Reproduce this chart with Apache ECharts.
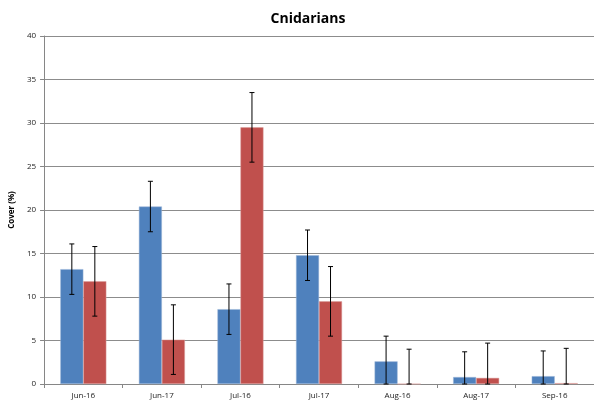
<!DOCTYPE html>
<html>
<head>
<meta charset="utf-8">
<script src="https://cdn.jsdelivr.net/npm/echarts@6/dist/echarts.min.js"></script>
<style>
  html, body { margin: 0; padding: 0; background: #fff; }
  #main { width: 594px; height: 402px; }
</style>
</head>
<body>
<div id="main"></div>
<script>
const categories = ['Jun-16', 'Jun-17', 'Jul-16', 'Jul-17', 'Aug-16', 'Aug-17', 'Sep-16']
const blueValues = [13.2, 20.4, 8.6, 14.8, 2.6, 0.8, 0.9]
const redValues = [11.8, 5.1, 29.5, 9.5, 0, 0.7, 0.1]
const blueErr = [2.9, 2.9, 2.9, 2.9, 2.9, 2.9, 2.9]
const redErr = [4.0, 4.0, 4.0, 4.0, 4.0, 4.0, 4.0]
const yTicks = [0, 5, 10, 15, 20, 25, 30, 35, 40]

const barW = 23

// [category index, low, high] — low end clipped at the axis minimum
function errData(values, errs) {
  return values.map((v, i) => [i, Math.max(0, v - errs[i]), v + errs[i]])
}

function errRender(offset) {
  return function (params, api) {
    const idx = api.value(0)
    const x = api.coord([idx, 0])[0] + offset
    const yLo = api.coord([idx, api.value(1)])[1]
    const yHi = api.coord([idx, api.value(2)])[1]
    const st = { stroke: '#000', lineWidth: 1 }
    return {
      type: 'group',
      children: [
        { type: 'line', shape: { x1: x, y1: yHi, x2: x, y2: yLo }, style: st },
        { type: 'line', shape: { x1: x - 2.5, y1: yHi, x2: x + 2.5, y2: yHi }, style: st },
        { type: 'line', shape: { x1: x - 2.5, y1: yLo, x2: x + 2.5, y2: yLo }, style: st }
      ]
    }
  }
}

const chart = echarts.init(document.getElementById('main'))
const option = {
  backgroundColor: '#fff',
  animation: false,
  title: {
    text: 'Cnidarians',
    left: 303,
    textAlign: 'center',
    top: 7,
    textStyle: { fontFamily: 'Open Sans', fontSize: 14, fontWeight: 'bold', color: '#000' }
  },
  grid: { left: 40, top: 36, width: 560, height: 348 },
  xAxis: {
    type: 'category',
    data: categories,
    axisLine: { lineStyle: { color: '#868686', width: 1 } },
    axisTick: { show: true, length: 4, lineStyle: { color: '#868686' } },
    axisLabel: { fontFamily: 'Open Sans', fontSize: 8, color: '#222', margin: 8 }
  },
  yAxis: {
    type: 'value',
    min: yTicks[0],
    max: yTicks[yTicks.length - 1],
    interval: 5,
    name: 'Cover (%)',
    nameLocation: 'middle',
    nameGap: 24,
    nameTextStyle: { fontFamily: 'Open Sans', fontSize: 8, fontWeight: 'bold', color: '#000' },
    axisLine: { show: true, lineStyle: { color: '#868686' } },
    axisTick: { show: true, length: 4, lineStyle: { color: '#868686' } },
    axisLabel: { fontFamily: 'Open Sans', fontSize: 8, color: '#222', margin: 8 },
    splitLine: { show: true, lineStyle: { color: '#8c8c8c', width: 1 } }
  },
  series: [
    {
      name: 'blue',
      type: 'bar',
      barWidth: barW,
      barGap: '0%',
      itemStyle: { color: '#4F81BD', borderColor: '#9cb6d9', borderWidth: 0.5 },
      data: blueValues
    },
    {
      name: 'red',
      type: 'bar',
      barWidth: barW,
      barGap: '0%',
      itemStyle: { color: '#C0504D', borderColor: '#dba09e', borderWidth: 0.5 },
      data: redValues
    },
    {
      type: 'custom',
      renderItem: errRender(-barW / 2),
      data: errData(blueValues, blueErr),
      encode: { x: 0, y: [1, 2] },
      z: 10
    },
    {
      type: 'custom',
      renderItem: errRender(barW / 2),
      data: errData(redValues, redErr),
      encode: { x: 0, y: [1, 2] },
      z: 10
    }
  ]
}
chart.setOption(option)
</script>
</body>
</html>
